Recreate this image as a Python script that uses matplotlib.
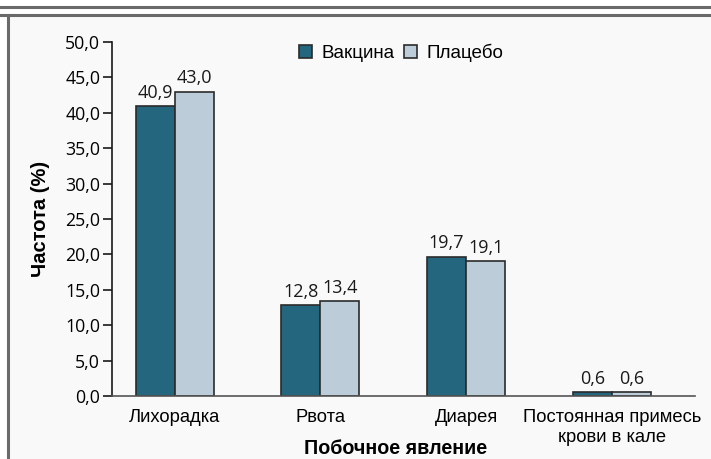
import matplotlib
matplotlib.use("Agg")
import matplotlib.pyplot as plt
import numpy as np
from matplotlib.patches import Rectangle
from matplotlib.lines import Line2D

# Side effects and how often they occurred
categories = ["Лихорадка", "Рвота", "Диарея", "Постоянная примесь\nкрови в кале"]
vaccine = [40.9, 12.8, 19.7, 0.6]
placebo = [43.0, 13.4, 19.1, 0.6]
series_names = ["Вакцина", "Плацебо"]
yticks = [0, 5, 10, 15, 20, 25, 30, 35, 40, 45, 50]

dark = "#23667e"
light = "#bccdd9"
edge = "#2b2b2b"
num_font = "Open Sans"
txt_font = "Liberation Sans"

fig = plt.figure(figsize=(7.11, 4.59), dpi=100)
fig.patch.set_facecolor("white")

# panel background and frame
fig.patches.append(Rectangle((9 / 711, 0), 1, 1 - 16 / 459, transform=fig.transFigure,
                             facecolor="#f9f9f9", edgecolor="none", zorder=-10))
for y in (7, 15):
    fig.lines.append(Line2D([0, 1], [1 - y / 459] * 2, transform=fig.transFigure,
                            color="#6a6a6a", lw=2.2))
fig.lines.append(Line2D([8 / 711] * 2, [0, 1 - 15 / 459], transform=fig.transFigure,
                        color="#6a6a6a", lw=2.2))

ax = fig.add_axes([112 / 711, 1 - 396 / 459, (695 - 112) / 711, (396 - 42) / 459])
ax.set_facecolor("none")
ax.set_zorder(5)

x = np.arange(len(categories))
w = 0.268
b1 = ax.bar(x - w / 2, vaccine, w, color=dark, edgecolor=edge, lw=1.2, label=series_names[0])
b2 = ax.bar(x + w / 2, placebo, w, color=light, edgecolor=edge, lw=1.2, label=series_names[1])

for bars, vals in ((b1, vaccine), (b2, placebo)):
    for r, v in zip(bars, vals):
        ax.text(r.get_x() + r.get_width() / 2, v + 0.6, f"{v:.1f}".replace(".", ","),
                ha="center", va="bottom", fontsize=13, family=num_font, color="#1a1a1a")

ax.set_xlim(-0.43, 3.57)
ax.set_ylim(0, 50)
ax.set_yticks(yticks)
ax.set_yticklabels([f"{t:.1f}".replace(".", ",") for t in yticks],
                   family=num_font, fontsize=12.8)
ax.set_xticks(x)
ax.set_xticklabels(categories, family=txt_font, fontsize=13.2, linespacing=1.25)
ax.tick_params(axis="x", length=0, pad=9)
ax.tick_params(axis="y", length=6.5, width=1.2, color="#1a1a1a", pad=2)

for s in ("top", "right"):
    ax.spines[s].set_visible(False)
ax.spines["left"].set_color("#1a1a1a")
ax.spines["left"].set_linewidth(1.2)
ax.spines["bottom"].set_color("#555555")
ax.spines["bottom"].set_linewidth(1.2)

ax.set_ylabel("Частота (%)", family=txt_font, fontsize=14.5, fontweight="bold", labelpad=11)
# x-axis title sits tight against the bottom edge of the panel
fig.text(0.5 * (112 + 695) / 711 - 8 / 711, 1 - 454 / 459, "Побочное явление",
         family=txt_font, fontsize=14.2, fontweight="bold", ha="center", va="baseline")

ax.legend(loc="upper center", bbox_to_anchor=(0.496, 1.043), ncol=2, frameon=False,
          prop={"family": txt_font, "size": 13.6}, handlelength=0.7, handleheight=0.7,
          handletextpad=0.5, columnspacing=0.5)

fig.savefig("out.png", dpi=100)
